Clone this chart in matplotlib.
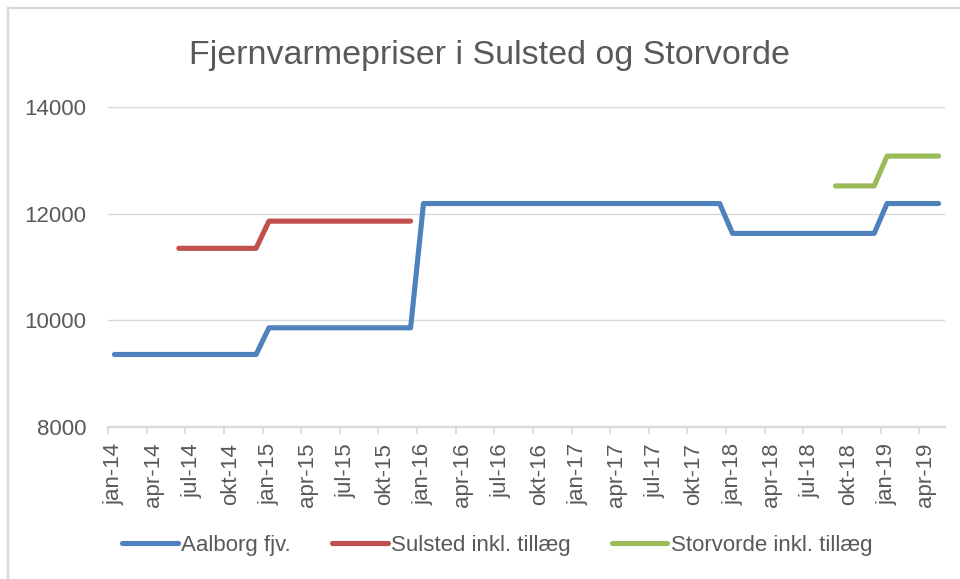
import numpy as np
import matplotlib
matplotlib.use('Agg')
import matplotlib.pyplot as plt
from matplotlib.lines import Line2D

##################################################################################
# Data (monthly, jan-14 .. maj-19)
##################################################################################
MONTHS = ['jan', 'feb', 'mar', 'apr', 'maj', 'jun',
          'jul', 'aug', 'sep', 'okt', 'nov', 'dec']
YEARS = ['14', '15', '16', '17', '18', '19']
N_MONTHS = 65

NA = np.nan

# Aalborg fjv.
aalborg = [
    9360, 9360, 9360, 9360, 9360, 9360, 9360, 9360, 9360, 9360, 9360, 9360,
    9860, 9860, 9860, 9860, 9860, 9860, 9860, 9860, 9860, 9860, 9860, 9860,
    12190, 12190, 12190, 12190, 12190, 12190, 12190, 12190, 12190, 12190, 12190, 12190,
    12190, 12190, 12190, 12190, 12190, 12190, 12190, 12190, 12190, 12190, 12190, 12190,
    11630, 11630, 11630, 11630, 11630, 11630, 11630, 11630, 11630, 11630, 11630, 11630,
    12190, 12190, 12190, 12190, 12190,
]

# Sulsted inkl. tillaeg
sulsted = [
    NA, NA, NA, NA, NA, 11350, 11350, 11350, 11350, 11350, 11350, 11350,
    11860, 11860, 11860, 11860, 11860, 11860, 11860, 11860, 11860, 11860, 11860, 11860,
    NA, NA, NA, NA, NA, NA, NA, NA, NA, NA, NA, NA,
    NA, NA, NA, NA, NA, NA, NA, NA, NA, NA, NA, NA,
    NA, NA, NA, NA, NA, NA, NA, NA, NA, NA, NA, NA,
    NA, NA, NA, NA, NA,
]

# Storvorde inkl. tillaeg
storvorde = [
    NA, NA, NA, NA, NA, NA, NA, NA, NA, NA, NA, NA,
    NA, NA, NA, NA, NA, NA, NA, NA, NA, NA, NA, NA,
    NA, NA, NA, NA, NA, NA, NA, NA, NA, NA, NA, NA,
    NA, NA, NA, NA, NA, NA, NA, NA, NA, NA, NA, NA,
    NA, NA, NA, NA, NA, NA, NA, NA, 12520, 12520, 12520, 12520,
    13080, 13080, 13080, 13080, 13080,
]

SERIES = ['Aalborg fjv.', 'Sulsted inkl. tillæg', 'Storvorde inkl. tillæg']
COLORS = ['#4F81BD', '#C0504D', '#9BBB59']

labels = []
for yr in YEARS:
    for mo in MONTHS:
        labels.append(mo + '-' + yr)
labels = labels[:N_MONTHS]

##################################################################################
# Plot
##################################################################################
plt.rcParams['font.family'] = ['Liberation Sans', 'DejaVu Sans']
TXT = '#595959'
GRID = '#D9D9D9'
FS = 16

fig = plt.figure(figsize=(9.6, 5.79), dpi=100)
ax = fig.add_axes([108 / 960, 1 - 427 / 579, (945 - 108) / 960, (427 - 107) / 579])

x = np.arange(N_MONTHS)
for vals, name, col in zip([aalborg, sulsted, storvorde], SERIES, COLORS):
    ax.plot(x, vals, color=col, lw=3.7, label=name,
            solid_capstyle='round', solid_joinstyle='round')

ax.set_xlim(-0.5, N_MONTHS - 0.5)
ax.set_ylim(8000, 14000)
ax.set_yticks([8000, 10000, 12000, 14000])
ax.set_yticklabels(['8000', '10000', '12000', '14000'])

ax.set_xticks(x[::3])
ax.set_xticklabels(labels[::3], rotation=90)
ax.set_xticks(np.arange(-0.5, N_MONTHS, 3), minor=True)

ax.grid(axis='y', color=GRID, lw=1.0)
ax.set_axisbelow(True)
for s in ['top', 'right', 'left']:
    ax.spines[s].set_visible(False)
ax.spines['bottom'].set_color(GRID)
ax.spines['bottom'].set_linewidth(1.6)

ax.tick_params(axis='x', which='major', length=0, pad=11.5, labelsize=FS, labelcolor=TXT)
ax.tick_params(axis='x', which='minor', length=5, width=1.2, color=GRID)
ax.tick_params(axis='y', length=0, pad=15.8, labelsize=FS, labelcolor=TXT)

fig.text(490 / 960, 1 - 64 / 579, 'Fjernvarmepriser i Sulsted og Storvorde',
         fontsize=24.5, color=TXT, ha='center', va='baseline')

leg = fig.legend(loc='center', bbox_to_anchor=(0.518, 1 - 545 / 579), ncol=3,
                 frameon=False, fontsize=FS, handlelength=2.5, handletextpad=0.15,
                 columnspacing=1.85)
for t in leg.get_texts():
    t.set_color(TXT)

# chart border (cropped on right and bottom)
fig.add_artist(Line2D([8 / 960, 8 / 960], [0, 1 - 8 / 579], color=GRID, lw=1.6))
fig.add_artist(Line2D([8 / 960, 1], [1 - 8 / 579, 1 - 8 / 579], color=GRID, lw=1.6))

fig.savefig('out.png', dpi=100)
